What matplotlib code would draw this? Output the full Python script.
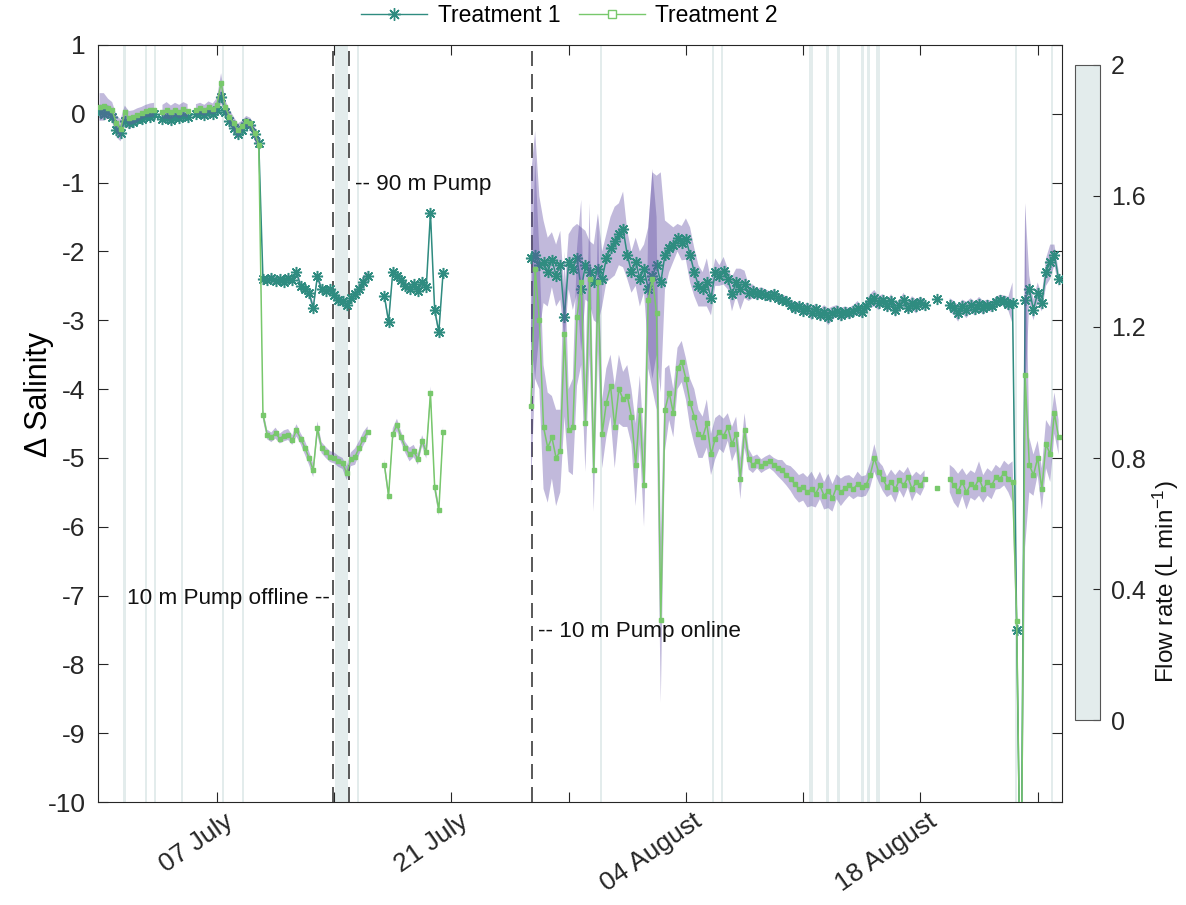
import numpy as np
import matplotlib
matplotlib.use("Agg")
import matplotlib.pyplot as plt
import matplotlib.dates as mdates
import matplotlib.transforms as mtransforms
from matplotlib.colors import ListedColormap, Normalize
from matplotlib.lines import Line2D

plt.rcParams["font.family"] = ["Liberation Sans", "DejaVu Sans"]
plt.rcParams["mathtext.fontset"] = "custom"
plt.rcParams["mathtext.rm"] = "Liberation Sans"
plt.rcParams["mathtext.it"] = "Liberation Sans:italic"

nan = np.nan

# ---------------------------------------------------------------------------
# Salinity anomaly, 6-hourly means of the replicate tanks (and their std)
# ---------------------------------------------------------------------------
seg1_start = "2021-06-30T00:00"
t1_seg1 = [0.02, 0.00, 0.03, -0.04, -0.24, -0.28, -0.10, -0.14, -0.12, -0.08,
           -0.07, -0.03, -0.05, -0.01, nan, -0.07, -0.05, -0.09, -0.04, -0.06,
           -0.03, -0.05, nan, 0.00, 0.01, -0.02, 0.02, 0.00, 0.05, 0.25,
           0.03, -0.10, -0.20, -0.30, -0.24, -0.14, -0.17, -0.30, -0.42,
           -2.40, -2.42, -2.38, -2.43, -2.40, -2.44, -2.39, -2.42, -2.30, -2.50,
           -2.55, -2.60, -2.82, -2.36, -2.55, -2.57, -2.55, -2.64, -2.70, -2.72,
           -2.78, -2.68, -2.62, -2.55, -2.45, -2.36]
t2_seg1 = [0.10, 0.12, 0.08, 0.05, -0.14, -0.22, 0.02, -0.06, -0.05, -0.02,
           0.01, 0.04, 0.05, 0.06, nan, 0.03, 0.05, 0.02, 0.06, 0.03,
           0.07, 0.04, nan, 0.06, 0.08, 0.05, 0.10, 0.07, 0.13, 0.45,
           0.10, -0.04, -0.14, -0.24, -0.18, -0.11, -0.14, -0.28, -0.45,
           -4.37, -4.66, -4.70, -4.64, -4.72, -4.68, -4.66, -4.74, -4.60, -4.72,
           -4.85, -5.00, -5.18, -4.57, -4.85, -4.92, -4.98, -5.00, -5.05, -5.08,
           -5.22, -5.02, -4.98, -4.85, -4.72, -4.62]
sd1_seg1 = [0.12, 0.10, 0.10, 0.08, 0.10, 0.12, 0.08, 0.08, 0.07, 0.07,
            0.06, 0.06, 0.06, 0.06, 0.00, 0.06, 0.07, 0.07, 0.06, 0.06,
            0.06, 0.06, 0.00, 0.06, 0.06, 0.06, 0.06, 0.06, 0.07, 0.10,
            0.08, 0.07, 0.07, 0.07, 0.06, 0.06, 0.06, 0.08, 0.08,
            0.06, 0.05, 0.05, 0.06, 0.05, 0.05, 0.06, 0.05, 0.06, 0.06,
            0.05, 0.06, 0.07, 0.06, 0.05, 0.05, 0.05, 0.06, 0.06, 0.06,
            0.05, 0.06, 0.06, 0.08, 0.10, 0.08]
sd2_seg1 = [0.20, 0.18, 0.14, 0.12, 0.12, 0.14, 0.10, 0.10, 0.10, 0.10,
            0.09, 0.09, 0.10, 0.10, 0.00, 0.10, 0.12, 0.10, 0.10, 0.10,
            0.10, 0.10, 0.00, 0.08, 0.08, 0.08, 0.08, 0.08, 0.10, 0.14,
            0.10, 0.10, 0.10, 0.10, 0.08, 0.08, 0.08, 0.10, 0.10,
            0.08, 0.07, 0.07, 0.08, 0.07, 0.08, 0.08, 0.07, 0.09, 0.08,
            0.10, 0.10, 0.10, 0.10, 0.08, 0.08, 0.08, 0.08, 0.08, 0.08,
            0.10, 0.10, 0.12, 0.10, 0.10, 0.08]

seg2_start = "2021-07-17T00:00"
t1_seg2 = [-2.65, -3.02, -2.30, -2.36, -2.42, -2.50, -2.55, -2.48, -2.58, -2.45,
           -2.52, -1.44, -2.85, -3.17, -2.32]
t2_seg2 = [-5.10, -5.55, -4.65, -4.52, -4.70, -4.85, -4.95, -4.90, -5.02, -4.75,
           -4.92, -4.06, -5.42, -5.76, -4.62]
sd1_seg2 = [0.06, 0.06, 0.05, 0.05, 0.05, 0.06, 0.05, 0.06, 0.05, 0.05,
            0.06, 0.08, 0.06, 0.06, 0.05]
sd2_seg2 = [0.08, 0.08, 0.08, 0.09, 0.08, 0.08, 0.10, 0.09, 0.08, 0.08,
            0.09, 0.10, 0.08, 0.08, 0.08]

seg3_start = "2021-07-25T18:00"
t1_seg3 = [-2.10, -2.05, -2.20, -2.15, -2.30, -2.12, -2.35, -2.20, -2.95, -2.15,
           -2.25, -2.10, -2.55, -2.20, -2.30, -2.45, -2.25, -2.40, -2.10, -1.95,
           -1.85, -1.75, -1.68, -2.05, -2.30, -2.15, -2.40, -2.25, -2.55, -2.35,
           -2.20, -2.45, -2.05, -1.95, -1.90, -1.80, -1.88, -1.82, -2.05, -2.30,
           -2.50, -2.55, -2.45, -2.68, -2.30, -2.35, -2.28, -2.40, -2.62, -2.45,
           -2.55, -2.48, -2.60, -2.58, -2.62, -2.60, -2.63, -2.65, -2.62, -2.68,
           -2.70, -2.72, -2.78, -2.82, -2.80, -2.86, -2.82, -2.90, -2.84, -2.92,
           -2.88, -2.95, -2.90, -2.86, -2.92, -2.88, -2.90, -2.86, -2.82, -2.88,
           -2.80, -2.72, -2.68, -2.75, -2.70, -2.80, -2.72, -2.85, -2.78, -2.70,
           -2.82, -2.75, -2.80, -2.74, -2.78, nan, nan, -2.69, nan, nan,
           -2.78, -2.82, -2.90, -2.80, -2.85, -2.78, -2.83, -2.76, -2.82, -2.78,
           -2.80, -2.74, -2.70, -2.72, -2.76, -2.75, -7.50, -12.0, -2.70, -2.55,
           -2.85, -2.60, -2.75, -2.30, -2.15, -2.05, -2.40]
t2_seg3 = [-4.25, -2.25, -3.00, -4.55, -4.85, -4.70, -5.00, -4.90, -3.20, -4.60,
           -4.55, -2.95, -2.45, -4.50, -2.40, -5.18, -2.45, -4.65, -4.20, -3.95,
           -4.55, -4.00, -4.15, -4.10, -4.40, -5.10, -4.30, -5.40, -2.70, -2.40,
           -2.90, -7.36, -4.30, -4.05, -4.35, -3.70, -3.60, -3.85, -4.20, -4.40,
           -4.65, -4.70, -4.50, -4.95, -4.72, -4.62, -4.68, -4.55, -4.80, -4.65,
           -5.30, -4.60, -5.02, -5.10, -5.05, -5.12, -5.08, -5.05, -5.10, -5.15,
           -5.18, -5.25, -5.30, -5.38, -5.45, -5.42, -5.50, -5.45, -5.52, -5.40,
           -5.55, -5.48, -5.58, -5.42, -5.50, -5.44, -5.40, -5.45, -5.38, -5.42,
           -5.40, -5.25, -5.00, -5.20, -5.30, -5.42, -5.35, -5.45, -5.32, -5.40,
           -5.28, -5.45, -5.35, -5.40, -5.30, nan, nan, -5.44, nan, nan,
           -5.30, -5.40, -5.48, -5.35, -5.50, -5.38, -5.42, -5.30, -5.45, -5.35,
           -5.40, -5.28, -5.30, -5.22, -5.30, -5.35, -7.37, -12.0, -3.80, -5.10,
           -5.25, -5.00, -5.45, -4.80, -4.95, -4.35, -4.70]
sd1_seg3 = [1.20, 1.80, 1.00, 0.60, 0.50, 0.40, 0.45, 0.50, 0.35, 0.40,
            0.60, 0.50, 0.90, 0.50, 0.45, 0.55, 0.80, 0.40, 0.35, 0.45,
            0.50, 0.45, 0.55, 0.35, 0.30, 0.35, 0.40, 0.35, 0.90, 1.50,
            1.30, 1.60, 0.50, 0.35, 0.25, 0.20, 0.25, 0.30, 0.40, 0.35,
            0.30, 0.25, 0.35, 0.25, 0.20, 0.15, 0.20, 0.15, 0.25, 0.20,
            0.30, 0.20, 0.12, 0.10, 0.08, 0.08, 0.08, 0.07, 0.07, 0.07,
            0.07, 0.07, 0.08, 0.08, 0.07, 0.08, 0.08, 0.10, 0.08, 0.08,
            0.10, 0.12, 0.10, 0.08, 0.10, 0.08, 0.08, 0.08, 0.10, 0.08,
            0.08, 0.10, 0.12, 0.10, 0.08, 0.08, 0.10, 0.10, 0.08, 0.10,
            0.08, 0.10, 0.10, 0.08, 0.08, 0.00, 0.00, 0.05, 0.00, 0.00,
            0.10, 0.10, 0.12, 0.10, 0.12, 0.10, 0.10, 0.10, 0.10, 0.08,
            0.08, 0.08, 0.07, 0.08, 0.10, 0.30, 0.50, 0.50, 1.40, 0.20,
            0.15, 0.15, 0.12, 0.20, 0.25, 0.15, 0.12]
sd2_seg3 = [1.20, 1.60, 1.00, 0.90, 0.80, 0.60, 0.70, 0.60, 1.20, 0.60,
            0.70, 1.00, 1.20, 0.70, 1.10, 0.60, 1.00, 0.50, 0.50, 0.45,
            0.60, 0.50, 0.40, 0.45, 0.40, 0.60, 0.50, 0.60, 1.00, 1.60,
            1.40, 1.20, 0.60, 0.40, 0.35, 0.30, 0.30, 0.30, 0.35, 0.40,
            0.35, 0.30, 0.35, 0.30, 0.30, 0.25, 0.25, 0.20, 0.25, 0.25,
            0.30, 0.25, 0.15, 0.12, 0.10, 0.10, 0.10, 0.10, 0.10, 0.12,
            0.15, 0.15, 0.18, 0.20, 0.20, 0.20, 0.22, 0.25, 0.20, 0.20,
            0.20, 0.25, 0.20, 0.18, 0.20, 0.18, 0.15, 0.15, 0.18, 0.15,
            0.15, 0.18, 0.20, 0.15, 0.18, 0.15, 0.18, 0.20, 0.15, 0.18,
            0.15, 0.18, 0.15, 0.15, 0.12, 0.00, 0.00, 0.08, 0.00, 0.00,
            0.20, 0.25, 0.25, 0.20, 0.25, 0.20, 0.20, 0.25, 0.20, 0.20,
            0.20, 0.18, 0.15, 0.18, 0.20, 0.30, 0.50, 0.50, 2.50, 0.40,
            0.30, 0.25, 0.30, 0.35, 0.40, 0.30, 0.25]

# Periods with pump flow (days since 30 June 00:00)
flow_on = [1.39, 2.70, 3.24, 4.85, 7.30, 8.49, 14.04, 15.35, 29.85, 36.53,
           37.07, 42.32, 43.39, 44.05, 45.48, 45.84, 46.32, 54.67, 56.82]
flow_off = [1.57, 2.82, 3.36, 4.97, 7.42, 8.61, 14.81, 15.47, 29.97, 36.65,
            37.19, 42.56, 43.57, 44.17, 45.66, 46.02, 46.56, 54.79, 56.94]

# Pump events
event_times = ["2021-07-13T22:30", "2021-07-14T21:30", "2021-07-25T19:00"]
event_labels = ["10 m Pump offline --", "-- 90 m Pump", "-- 10 m Pump online"]
event_label_pos = [("2021-07-13T18:00", -7.05), ("2021-07-15T05:30", -1.03),
                   ("2021-07-26T03:30", -7.52)]

flow_ticks = [0, 0.4, 0.8, 1.2, 1.6, 2]
flow_tick_labels = ["0", "0.4", "0.8", "1.2", "1.6", "2"]
series_names = ["Treatment 1", "Treatment 2"]

# ---------------------------------------------------------------------------
col_t1 = "#2f8c80"
col_t2 = "#78c86c"
col_sd = "#6452a6"
col_flow = "#e3ecec"
step = 0.25  # days


def stitch(*segments):
    """Join segments (start, values...) into one NaN-separated record."""
    xs, cols = [], None
    for start, *vals in segments:
        t0 = mdates.date2num(np.datetime64(start))
        n = len(vals[0])
        x = t0 + np.arange(n) * step
        xs.append(np.append(x, x[-1] + step))
        vals = [np.append(np.asarray(v, float), nan) for v in vals]
        cols = vals if cols is None else [np.concatenate([c, v]) for c, v in zip(cols, vals)]
    return (np.concatenate(xs), *cols)


t, s1, s2, e1, e2 = stitch(
    (seg1_start, t1_seg1, t2_seg1, sd1_seg1, sd2_seg1),
    (seg2_start, t1_seg2, t2_seg2, sd1_seg2, sd2_seg2),
    (seg3_start, t1_seg3, t2_seg3, sd1_seg3, sd2_seg3),
)

fig = plt.figure(figsize=(11.86, 9.05), dpi=100)
ax = fig.add_axes([0.0826, 0.1138, 0.8128, 0.8365])

t_origin = mdates.date2num(np.datetime64(seg1_start))
for a, b in zip(flow_on, flow_off):
    ax.axvspan(t_origin + a, t_origin + b, color=col_flow, lw=0, zorder=0)

for et in event_times:
    ax.axvline(mdates.date2num(np.datetime64(et)), color="#3c3c3c", lw=1.2,
               dashes=(9, 4.8), zorder=1)

ax.fill_between(t, s1 - e1, s1 + e1, color=col_sd, alpha=0.40, lw=0, zorder=2)
ax.plot(t, s1, color=col_t1, lw=1.1, marker=(8, 2, 0), ms=8, mew=1.1, zorder=3)
ax.fill_between(t, s2 - e2, s2 + e2, color=col_sd, alpha=0.40, lw=0, zorder=4)
ax.plot(t, s2, color=col_t2, lw=1.1, marker="s", ms=3.0, mew=1.0, mfc=col_t2,
        zorder=5)

for txt, (pt, py) in zip(event_labels, event_label_pos):
    ha = "right" if txt.endswith("--") else "left"
    ax.text(mdates.date2num(np.datetime64(pt)), py, txt, ha=ha, va="center",
            fontsize=16.2, color="#111111", zorder=6)

ax.set_xlim(t_origin - 0.1, t_origin + 57.45)
ax.set_ylim(-10, 1)
ax.set_yticks(np.arange(-10, 2, 1))
ax.set_yticklabels([str(v) for v in range(-10, 2)])

week_ticks = [mdates.date2num(np.datetime64(d)) for d in
              ["2021-07-07", "2021-07-14", "2021-07-21", "2021-07-28",
               "2021-08-04", "2021-08-11", "2021-08-18", "2021-08-25"]]
ax.set_xticks(week_ticks)
ax.set_xticklabels(["07 July", "", "21 July", "", "04 August", "",
                    "18 August", ""])

ax.tick_params(axis="both", direction="in", length=7, width=0.8,
               colors="#262626", labelsize=19, top=True, right=True)
ax.tick_params(axis="y", pad=9)
offset = mtransforms.ScaledTranslation(7 / 100, -2 / 100, fig.dpi_scale_trans)
for lab in ax.get_xticklabels():
    lab.set_rotation(35)
    lab.set_ha("right")
    lab.set_va("top")
    lab.set_rotation_mode("anchor")
    lab.set_transform(lab.get_transform() + offset)
for sp in ax.spines.values():
    sp.set_color("#262626")
    sp.set_linewidth(0.8)
ax.set_ylabel("Δ Salinity", fontsize=22)
ax.yaxis.set_label_coords(-0.046, 0.538)

handles = [Line2D([], [], color=col_t1, lw=1.0, marker=(8, 2, 0), ms=9, mew=1.0),
           Line2D([], [], color=col_t2, lw=1.0, marker="s", ms=6, mew=1.0,
                  mfc="white")]
fig.legend(handles, series_names, loc="upper center", ncol=2, frameon=False,
           bbox_to_anchor=(0.48, 1.018), fontsize=16.5, handlelength=2.9,
           columnspacing=0.8, handletextpad=0.45)

cax = fig.add_axes([0.9064, 0.2044, 0.0211, 0.7238])
sm = plt.cm.ScalarMappable(norm=Normalize(0, 2), cmap=ListedColormap([col_flow]))
cb = fig.colorbar(sm, cax=cax, ticks=flow_ticks)
cb.ax.set_yticklabels(flow_tick_labels)
cb.outline.set_edgecolor("#555555")
cb.outline.set_linewidth(0.8)
cb.ax.tick_params(direction="in", length=5, width=0.8, colors="#262626",
                  labelsize=18, pad=8)
fig.text(1166 / 1186, 1 - 582 / 905, "Flow rate (L min$^{-1}$)", rotation=90,
         ha="center", va="center", fontsize=17.5, color="#111111")

fig.savefig("out.png", dpi=100, facecolor="white")
